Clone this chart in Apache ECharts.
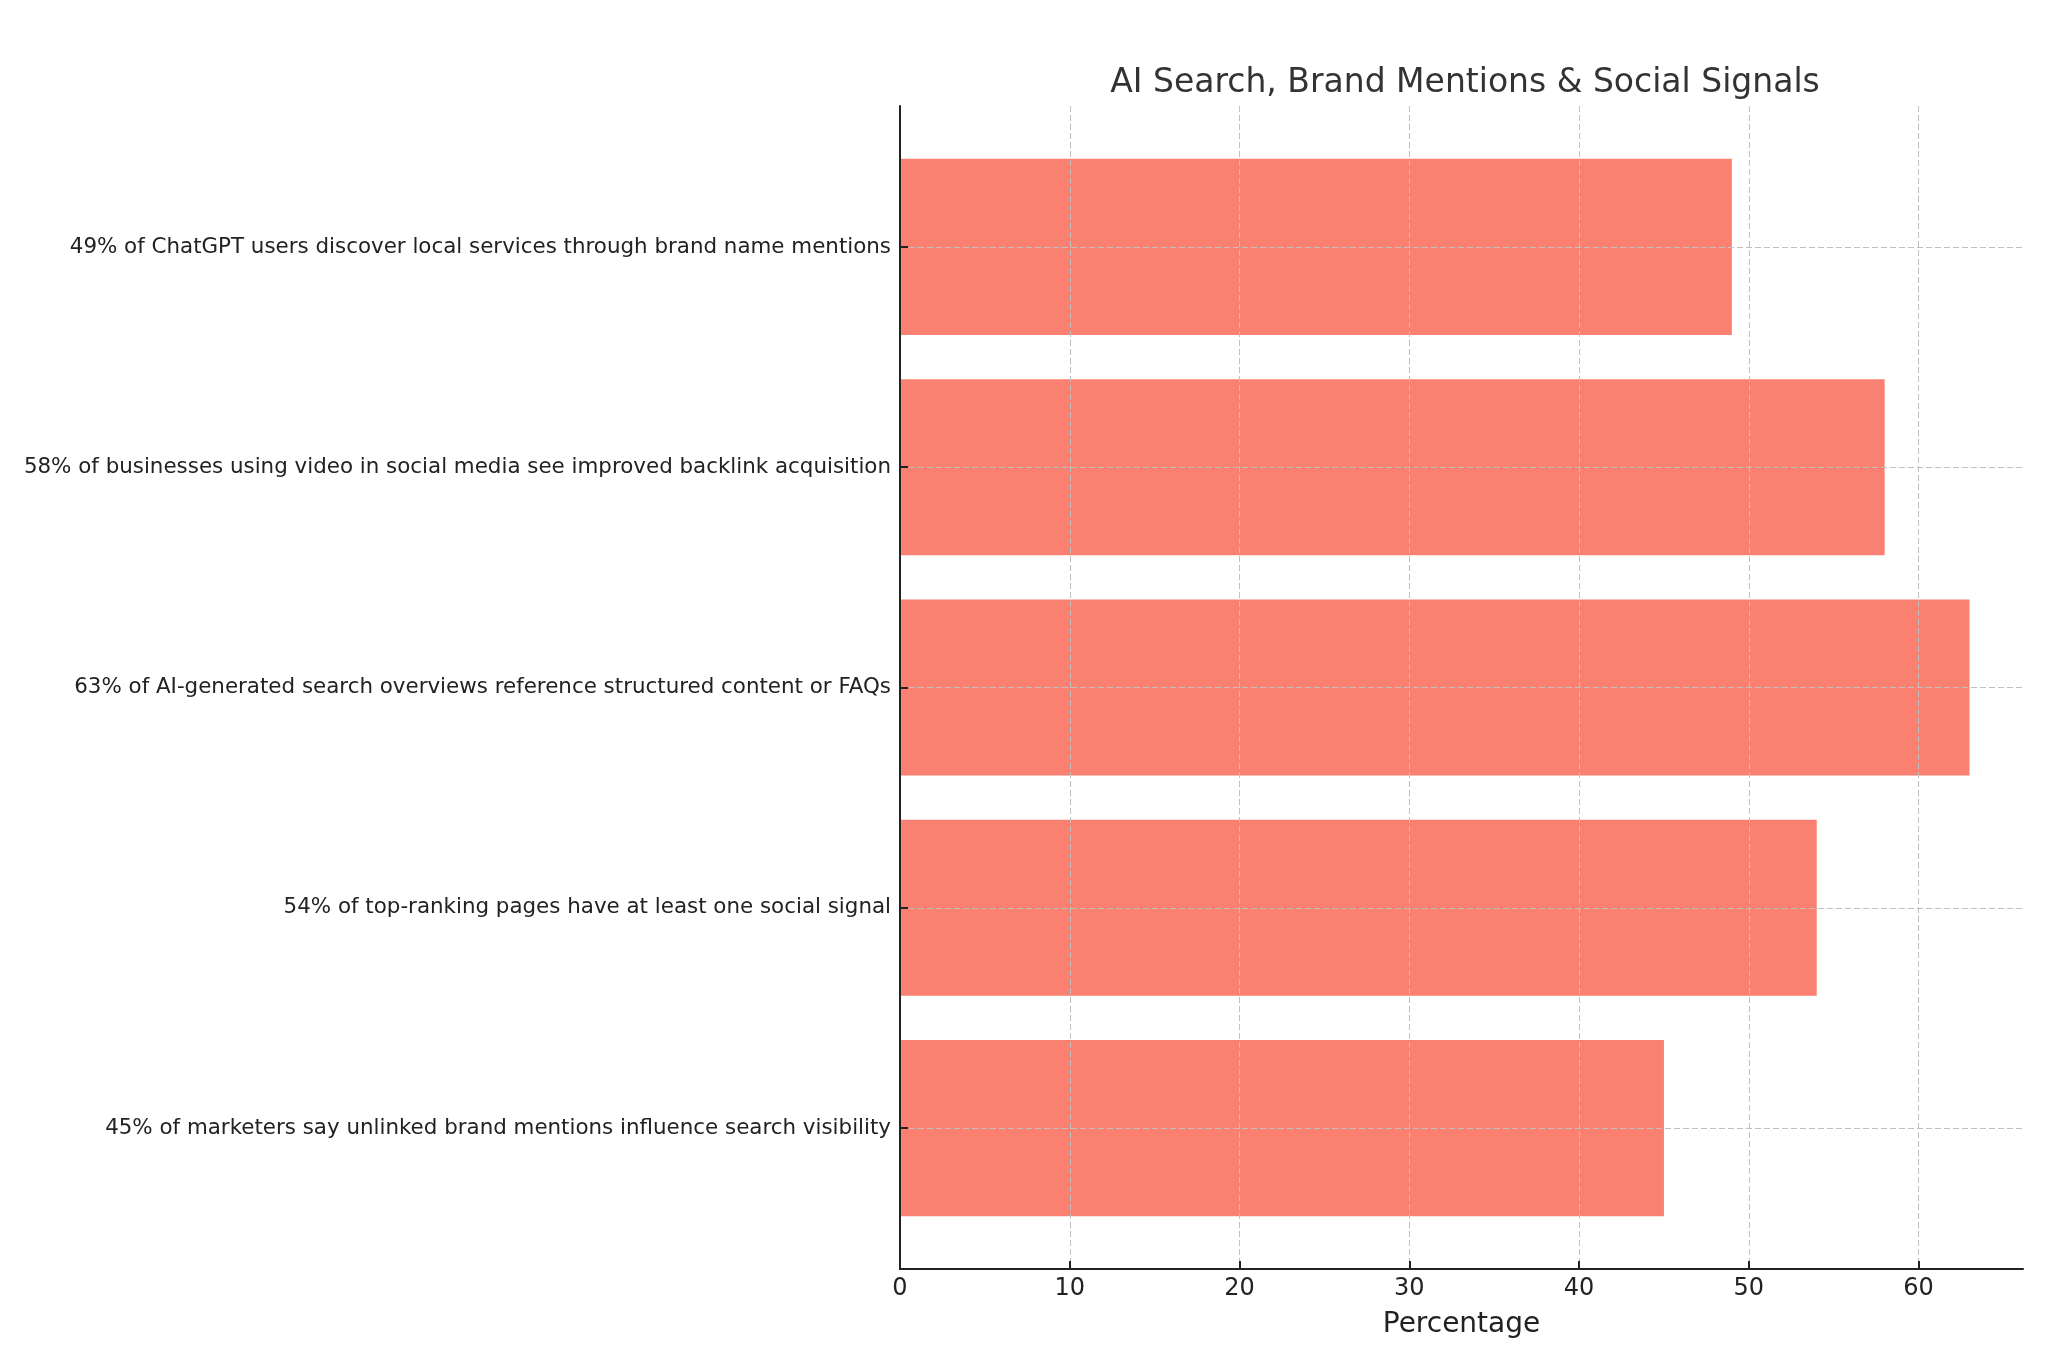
<!DOCTYPE html>
<html lang="en">
  <head>
    <meta charset="UTF-8">
    <title>AI Search, Brand Mentions &amp; Social Signals</title>
    <style>
      html, body { margin: 0; padding: 0; background: #fff; }
      #main { width: 2048px; height: 1365px; }
    </style>
  </head>
  <body>
    <div id="main"></div>
    <script src="https://cdn.jsdelivr.net/npm/echarts@6/dist/echarts.min.js"></script>
    <script type="text/javascript">
      // categories listed top to bottom
      var categories = [
        '49% of ChatGPT users discover local services through brand name mentions',
        '58% of businesses using video in social media see improved backlink acquisition',
        '63% of AI-generated search overviews reference structured content or FAQs',
        '54% of top-ranking pages have at least one social signal',
        '45% of marketers say unlinked brand mentions influence search visibility'
      ];
      var percentages = [49, 58, 63, 54, 45];
      var xTicks = [0, 10, 20, 30, 40, 50, 60];
      var catTicks = [0, 1, 2, 3, 4];

      var font = 'DejaVu Sans';
      var chart = echarts.init(document.getElementById('main'));

      var option = {
        backgroundColor: '#ffffff',
        animation: false,
        title: {
          text: 'AI Search, Brand Mentions & Social Signals',
          left: 1460,
          top: 62,
          textAlign: 'center',
          textStyle: { fontFamily: font, fontSize: 33, fontWeight: 'normal', color: '#333333' }
        },
        grid: { left: 900, right: 25, top: 106, bottom: 96, containLabel: false },
        xAxis: {
          type: 'value',
          min: 0,
          max: 66.15,
          z: 3,
          name: 'Percentage',
          nameLocation: 'middle',
          nameGap: 42,
          nameTextStyle: { fontFamily: font, fontSize: 28, color: '#222222' },
          axisLine: { show: true, onZero: false, lineStyle: { color: '#222222', width: 2 } },
          axisTick: { show: true, inside: true, length: 8, customValues: xTicks, lineStyle: { color: '#222222', width: 2 } },
          axisLabel: { customValues: xTicks, margin: 8, fontFamily: font, fontSize: 24, color: '#222222' },
          splitLine: { show: true, customValues: xTicks, lineStyle: { color: '#c0c0c0', width: 1, type: [6, 3] } }
        },
        yAxis: {
          type: 'value',
          min: -0.64,
          max: 4.64,
          inverse: true,
          z: 3,
          axisLine: { show: true, onZero: false, lineStyle: { color: '#222222', width: 2 } },
          axisTick: { show: true, inside: true, length: 8, customValues: catTicks, lineStyle: { color: '#222222', width: 2 } },
          axisLabel: {
            customValues: catTicks,
            margin: 9,
            fontFamily: font,
            fontSize: 21.4,
            color: '#222222',
            formatter: function (v) { return categories[Math.round(v)]; }
          },
          splitLine: { show: true, customValues: catTicks, lineStyle: { color: '#c0c0c0', width: 1, type: [6, 3] } }
        },
        series: [{
          type: 'custom',
          z: 2,
          data: percentages.map(function (v, i) { return [v, i]; }),
          encode: { x: 0, y: 1 },
          itemStyle: { color: '#FA8072' },
          renderItem: function (params, api) {
            var start = api.coord([0, api.value(1)]);
            var end = api.coord([api.value(0), api.value(1)]);
            var h = api.size([0, 0.8])[1];
            return {
              type: 'rect',
              shape: { x: start[0], y: start[1] - h / 2, width: end[0] - start[0], height: h },
              style: api.style()
            };
          }
        }]
      };

      chart.setOption(option);
    </script>
  </body>
</html>
